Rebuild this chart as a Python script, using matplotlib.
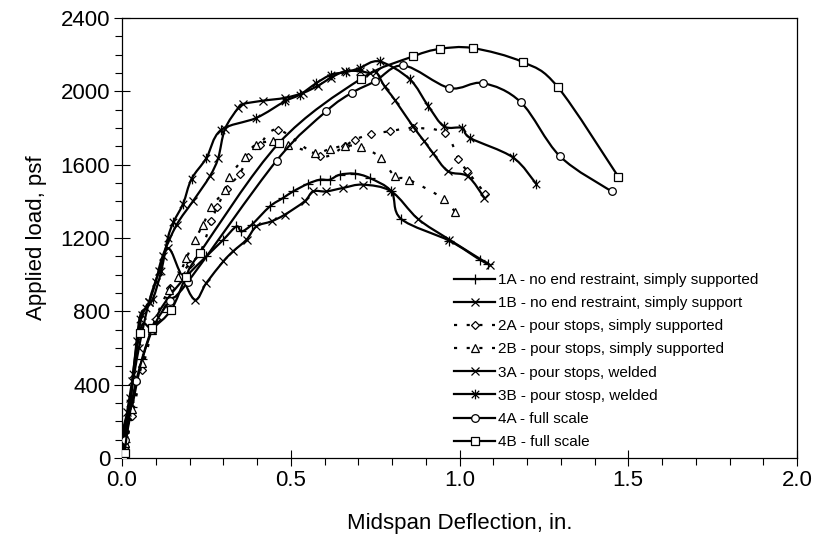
import numpy as np
import matplotlib.pyplot as plt
from matplotlib.path import Path
from matplotlib.patches import PathPatch
from matplotlib.lines import Line2D
from matplotlib.ticker import MultipleLocator

plt.rcParams['font.family'] = 'Liberation Sans'

# midspan deflection (in.) and applied load (psf) for each test
defl_1a = [0, 0.01, 0.03, 0.06, 0.10, 0.14, 0.19, 0.25, 0.30, 0.339, 0.354, 0.384, 0.438,
           0.477, 0.507, 0.551, 0.586, 0.615, 0.645, 0.689, 0.734, 0.798, 0.827, 0.97, 1.06, 1.085]
load_1a = [0, 90, 280, 540, 760, 880, 990, 1100, 1190, 1263, 1236, 1272, 1372,
           1418, 1454, 1496, 1518, 1518, 1545, 1551, 1527, 1454, 1304, 1185, 1082, 1058]

defl_1b = [0, 0.01, 0.025, 0.05, 0.08, 0.11, 0.137, 0.175, 0.216, 0.25, 0.30, 0.329, 0.369,
           0.398, 0.443, 0.482, 0.541, 0.566, 0.605, 0.655, 0.714, 0.798, 0.877, 0.97, 1.089]
load_1b = [0, 120, 330, 600, 850, 1020, 1145, 1000, 863, 955, 1072, 1127, 1191,
           1263, 1291, 1327, 1400, 1454, 1454, 1473, 1491, 1454, 1304, 1191, 1054]

defl_2a = [0, 0.01, 0.03, 0.06, 0.10, 0.142, 0.172, 0.20, 0.231, 0.265, 0.282, 0.31, 0.349,
           0.374, 0.408, 0.463, 0.586, 0.66, 0.689, 0.739, 0.793, 0.862, 0.956, 0.997, 1.023, 1.077]
load_2a = [0, 60, 230, 480, 760, 927, 990, 1060, 1118, 1291, 1369, 1467, 1551,
           1642, 1709, 1791, 1645, 1703, 1736, 1767, 1782, 1800, 1773, 1631, 1564, 1441]

defl_2b = [0, 0.01, 0.03, 0.06, 0.09, 0.127, 0.138, 0.167, 0.191, 0.216, 0.24, 0.265, 0.305,
           0.317, 0.364, 0.396, 0.448, 0.492, 0.571, 0.615, 0.66, 0.709, 0.768, 0.808, 0.85,
           0.954, 0.987]
load_2b = [0, 80, 270, 520, 700, 818, 918, 990, 1091, 1191, 1272, 1369, 1463,
           1533, 1642, 1709, 1727, 1709, 1664, 1685, 1703, 1696, 1636, 1536, 1518,
           1413, 1340]

defl_3a = [0, 0.005, 0.015, 0.03, 0.045, 0.06, 0.08, 0.10, 0.12, 0.162, 0.21, 0.26, 0.285,
           0.305, 0.344, 0.359, 0.418, 0.482, 0.536, 0.58, 0.62, 0.66, 0.704, 0.734, 0.753,
           0.778, 0.808, 0.862, 0.896, 0.921, 0.966, 1.025, 1.074]
load_3a = [0, 100, 250, 420, 640, 780, 850, 960, 1100, 1272, 1400, 1536, 1636,
           1794, 1909, 1931, 1949, 1964, 1991, 2030, 2075, 2109, 2110, 2100, 2105,
           2027, 1954, 1809, 1727, 1664, 1564, 1536, 1418]

defl_3b = [0, 0.003, 0.023, 0.033, 0.052, 0.072, 0.092, 0.116, 0.136, 0.152, 0.181, 0.206,
           0.25, 0.292, 0.398, 0.482, 0.527, 0.576, 0.62, 0.665, 0.704, 0.763, 0.852, 0.908,
           0.954, 1.008, 1.032, 1.158, 1.227]
load_3b = [0, 150, 300, 460, 760, 820, 870, 1018, 1200, 1285, 1387, 1522,
           1636, 1787, 1855, 1945, 1982, 2045, 2091, 2105, 2127, 2163, 2067, 1918,
           1809, 1800, 1745, 1640, 1496]

defl_4a = [0, 0.01, 0.042, 0.09, 0.141, 0.195, 0.458, 0.605, 0.68, 0.749, 0.834, 0.97,
           1.069, 1.182, 1.298, 1.451]
load_4a = [0, 100, 420, 700, 855, 960, 1622, 1891, 1991, 2054, 2141, 2018,
           2045, 1940, 1645, 1454]

defl_4b = [0.003, 0.008, 0.052, 0.09, 0.146, 0.19, 0.23, 0.465, 0.707, 0.862, 0.941, 1.039,
           1.187, 1.291, 1.471]
load_4b = [0, 30, 682, 709, 809, 990, 1118, 1718, 2067, 2190, 2231, 2236,
           2160, 2024, 1533]

labels = ["1A - no end restraint, simply supported",
          "1B - no end restraint, simply support",
          "2A - pour stops, simply supported",
          "2B - pour stops, simply supported",
          "3A - pour stops, welded",
          "3B - pour stosp, welded",
          "4A - full scale",
          "4B - full scale"]

# asterisk marker: an x with a vertical stroke
star = Path([(-1, -1), (1, 1), (-1, 1), (1, -1), (0, -1.3), (0, 1.3)],
            [Path.MOVETO, Path.LINETO, Path.MOVETO, Path.LINETO, Path.MOVETO, Path.LINETO])

dots = (0, (1.4, 4.3))
series = [
    (defl_1a, load_1a, '+', 6.5, '-'),
    (defl_1b, load_1b, 'x', 5.5, '-'),
    (defl_2a, load_2a, 'D', 4.5, dots),
    (defl_2b, load_2b, '^', 5.5, dots),
    (defl_3a, load_3a, 'x', 6, '-'),
    (defl_3b, load_3b, star, 7, '-'),
    (defl_4a, load_4a, 'o', 5.5, '-'),
    (defl_4b, load_4b, 's', 5.5, '-'),
]


def smooth_path(xs, ys):
    # Catmull-Rom style cubic segments through the data points
    pts = np.column_stack([xs, ys]).astype(float)
    n = len(pts)
    verts = [pts[0]]
    codes = [Path.MOVETO]
    for i in range(n - 1):
        p0 = pts[max(i - 1, 0)]
        p1 = pts[i]
        p2 = pts[i + 1]
        p3 = pts[min(i + 2, n - 1)]
        verts += [p1 + (p2 - p0) / 6, p2 - (p3 - p1) / 6, p2]
        codes += [Path.CURVE4] * 3
    return Path(verts, codes)


fig = plt.figure(figsize=(8.18, 5.45), dpi=100)
ax = fig.add_axes([122 / 818, 1 - 458 / 545, 675 / 818, 440 / 545])

handles = []
for k, (x, y, mk, ms, ls) in enumerate(series):
    ax.add_patch(PathPatch(smooth_path(x, y), fill=False, lw=1.6, ls=ls,
                           edgecolor='black', zorder=2 + 2 * k))
    filled = mk in ('D', '^', 'o', 's')
    ax.plot(x, y, ls='none', marker=mk, ms=ms, mew=0.9, mec='black',
            mfc='white' if filled else 'none', zorder=3 + 2 * k)
    handles.append(Line2D([], [], color='black', lw=1.6, ls=ls, marker=mk, ms=ms,
                          mew=0.9, mec='black', mfc='white' if filled else 'none'))

ax.set_xlim(0, 2)
ax.set_ylim(0, 2400)
ax.xaxis.set_major_locator(MultipleLocator(0.5))
ax.xaxis.set_minor_locator(MultipleLocator(0.1))
ax.yaxis.set_major_locator(MultipleLocator(400))
ax.yaxis.set_minor_locator(MultipleLocator(100))
ax.xaxis.set_major_formatter(plt.FormatStrFormatter('%.1f'))
ax.tick_params(which='major', direction='inout', length=11, width=0.8, labelsize=16, pad=3)
ax.tick_params(which='minor', direction='out', length=5, width=0.8)
for s in ax.spines.values():
    s.set_linewidth(0.9)

ax.set_xlabel("Midspan Deflection, in.", fontsize=16, labelpad=16)
ax.set_ylabel("Applied load, psf", fontsize=16, labelpad=10)

ax.legend(handles, labels, loc='upper left', bbox_to_anchor=(454 / 818, 1 - 273 / 545),
          bbox_transform=fig.transFigure, frameon=False, fontsize=11, borderpad=0,
          borderaxespad=0, handlelength=2.7, handletextpad=0.2, labelspacing=0.6)

fig.savefig('out.png', dpi=100)
